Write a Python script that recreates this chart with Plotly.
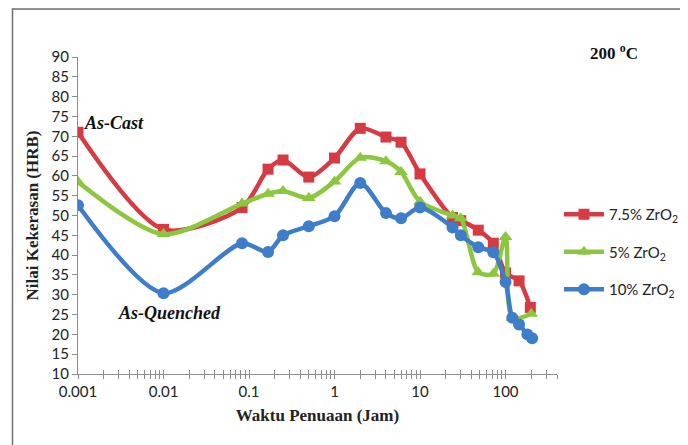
import plotly.graph_objects as go
import math

# ---- data ----
time_red = [0.001, 0.01, 0.083, 0.167, 0.25, 0.5, 1, 2, 4, 6, 10, 24, 30, 48, 72, 100, 144, 195]
hrb_red = [71, 46.5, 52, 61.7, 64, 59.7, 64.5, 72, 69.8, 68.5, 60.5, 49.5, 48.7, 46.3, 43, 35.5, 33.5, 26.8]

time_green = [0.001, 0.01, 0.083, 0.167, 0.25, 0.5, 1, 2, 4, 6, 10, 24, 30, 48, 72, 100, 120, 200]
hrb_green = [58.5, 45.3, 53, 55.5, 56.2, 54.4, 58.6, 64.6, 63.7, 61, 53.5, 50, 49.3, 35.7, 35.3, 44.6, 24.2, 25.2]

time_blue = [0.001, 0.01, 0.083, 0.167, 0.25, 0.5, 1, 2, 4, 6, 10, 24, 30, 48, 72, 100, 120, 144, 180, 205]
hrb_blue = [52.6, 30.4, 43, 40.8, 45, 47.3, 49.8, 58.2, 50.6, 49.3, 52, 47, 45, 42, 40.7, 33.2, 24.2, 22.5, 20, 19]

x_tickvals = [0.001, 0.01, 0.1, 1, 10, 100]
x_ticktext = ["0.001", "0.01", "0.1", "1", "10", "100"]
x_max = 400

series = [
    ("7.5% ZrO<sub>2</sub>", time_red, hrb_red, "#D63A43", "square", 11),
    ("5% ZrO<sub>2</sub>", time_green, hrb_green, "#8DC63F", "triangle-up", 12),
    ("10% ZrO<sub>2</sub>", time_blue, hrb_blue, "#3D7DCA", "circle", 12),
]

fig = go.Figure()
for i, (name, xs, ys, col, sym, sz) in enumerate(series):
    fig.add_trace(go.Scatter(
        x=xs, y=ys, name=name, mode="lines+markers",
        line=dict(color=col, width=4.5, shape="spline", smoothing=0.8),
        marker=dict(color=col, symbol=sym, size=sz),
        legendgroup=str(i),
    ))

# dummy trace for crossing minor ticks
fig.add_trace(go.Scatter(x=[], y=[], xaxis="x2", showlegend=False, hoverinfo="skip"))

minor_vals = []
for e in range(-3, 3):
    for m in range(2, 10):
        v = m * 10 ** e
        if v <= x_max:
            minor_vals.append(v)

OFF = 8  # default page body margin
W, H = 688, 445
L, T = 78 - OFF, 57 - OFF
R, B = W - (568 - OFF), H - (374 - OFF)
pw, ph = W - L - R, H - T - B

def px(sx):
    return (sx - OFF - L) / pw

def py(sy):
    return (H - B - (sy - OFF)) / ph

axis_common = dict(
    type="log", range=[-3, math.log10(x_max)],
    showline=True, linecolor="#8c8c8c", linewidth=1,
    showgrid=False, zeroline=False,
    tickvals=x_tickvals, ticktext=x_ticktext,
    ticklen=4, tickcolor="#8c8c8c",
)

fig.update_layout(
    width=W, height=H,
    margin=dict(l=L, r=R, t=T, b=B),
    paper_bgcolor="white", plot_bgcolor="white",
    font=dict(family="Lato, Liberation Sans, sans-serif", color="#222", size=15),
    xaxis=dict(**axis_common, ticks="outside",
               minor=dict(tickvals=minor_vals, ticklen=4, tickcolor="#8c8c8c", ticks="outside", showgrid=False),
               tickfont=dict(size=15, family="Lato", color="#222"),
               title=dict(text="<b>Waktu Penuaan (Jam)</b>",
                          font=dict(family="Liberation Serif, Times New Roman, serif", size=17, color="#222"),
                          standoff=10)),
    xaxis2=dict(**axis_common,
                minor=dict(tickvals=minor_vals, ticklen=4, tickcolor="#8c8c8c", ticks="inside", showgrid=False),
                ticks="inside", overlaying="x", anchor="y", showticklabels=False, matches="x"),
    yaxis=dict(range=[10, 90], dtick=5, showline=True, linecolor="#8c8c8c", linewidth=1,
               showgrid=False, zeroline=False, ticks="outside", ticklen=5, tickcolor="#8c8c8c",
               tickfont=dict(size=15, family="Lato", color="#222"),
               title=dict(text="<b>Nilai Kekerasan (HRB)</b>",
                          font=dict(family="Liberation Serif, Times New Roman, serif", size=17, color="#222"),
                          standoff=8)),
    legend=dict(x=px(570), y=py(198), xanchor="left", yanchor="top",
                font=dict(family="Lato", size=15, color="#222"),
                itemwidth=40, tracegroupgap=15, bgcolor="rgba(0,0,0,0)"),
    showlegend=True,
)

serif_bi = dict(family="Liberation Serif, Times New Roman, serif", size=18, color="#111")
fig.add_annotation(x=px(82), y=py(123), xref="paper", yref="paper", xanchor="left", yanchor="middle",
                   text="<b><i>As-Cast</i></b>", showarrow=False, font=serif_bi)
fig.add_annotation(x=px(117), y=py(313), xref="paper", yref="paper", xanchor="left", yanchor="middle",
                   text="<b><i>As-Quenched</i></b>", showarrow=False, font=serif_bi)
fig.add_annotation(x=px(600), y=py(52), xref="paper", yref="paper", xanchor="left", yanchor="middle",
                   text="<b>200 <sup>o</sup>C</b>", showarrow=False,
                   font=dict(family="Liberation Serif, Times New Roman, serif", size=17, color="#111"))

# outer frame
fig.add_shape(type="rect", xref="paper", yref="paper",
              x0=px(11), y0=py(470), x1=px(720), y1=py(9),
              line=dict(color="#6e6e6e", width=1.5), fillcolor="rgba(0,0,0,0)", layer="below")

fig.write_html("out.html")
